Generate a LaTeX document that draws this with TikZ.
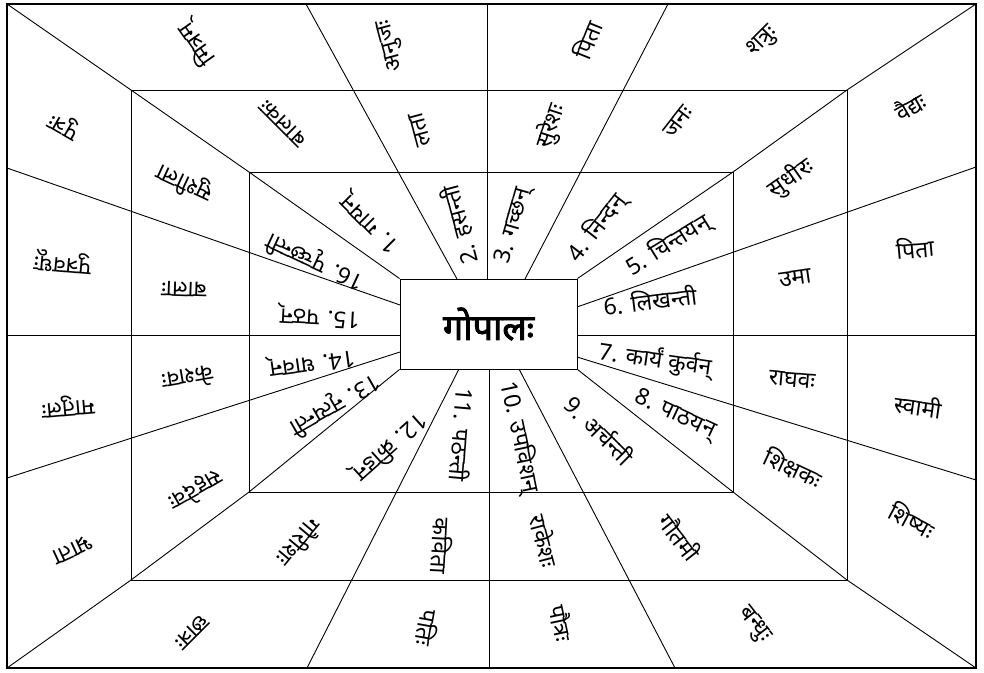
\documentclass[tikz,border=0pt]{standalone}
\usepackage{fontspec}
\newfontfamily\deva[Script=Devanagari]{Noto Sans}
\newfontfamily\devab[Script=Devanagari,FakeBold=2.5]{Noto Sans}
\begin{document}
\begin{tikzpicture}[x=1pt,y=-1pt,line width=0.9pt,
  lab/.style={font=\deva\fontsize{23}{26}\selectfont,inner sep=0pt},
  centrebox/.style={draw,minimum width=177pt,minimum height=90pt,inner sep=0pt,
    font=\devab\fontsize{36}{40}\selectfont}]
\useasboundingbox (0,0) rectangle (984,672);
\fill[white] (0,0) rectangle (984,672);
% frame points
\coordinate (O1) at (7,4);   \coordinate (O2) at (976,4);
\coordinate (O3) at (976,668); \coordinate (O4) at (7,668);
\coordinate (M1) at (131,90);  \coordinate (M2) at (847,90);
\coordinate (M3) at (847,580); \coordinate (M4) at (131,580);
\coordinate (I1) at (249,172); \coordinate (I2) at (733,172);
\coordinate (I3) at (733,492); \coordinate (I4) at (249,492);
\node[centrebox] (c) at (488.5,324) {गोपालः};
% rectangles
\draw[line width=1.4pt] (O1) rectangle (O3);
\draw (M1) rectangle (M3);
\draw (I1) rectangle (I3);
% diagonals
\draw (c.north west) -- (I1) -- (M1) -- (O1);
\draw (c.north east) -- (I2) -- (M2) -- (O2);
\draw (c.south east) -- (I3) -- (M3) -- (O3);
\draw (c.south west) -- (I4) -- (M4) -- (O4);
% spoke end points
\coordinate (a1) at (487,279); \coordinate (b1) at (487,4);
\coordinate (a2) at (489,369); \coordinate (b2) at (489,668);
\coordinate (a3) at (457,279); \coordinate (b3) at (306,4);
\coordinate (a4) at (525,279); \coordinate (b4) at (668,4);
\coordinate (a5) at (459,369); \coordinate (b5) at (307,668);
\coordinate (a6) at (519,369); \coordinate (b6) at (675,668);
\coordinate (a7) at (400,305); \coordinate (b7) at (7,168);
\coordinate (a8) at (400,352); \coordinate (b8) at (7,478);
\coordinate (a9) at (577,307); \coordinate (b9) at (976,167);
\coordinate (a10) at (577,357); \coordinate (b10) at (976,480);
\coordinate (a11) at (400,335); \coordinate (b11) at (7,335);
\coordinate (a12) at (577,335); \coordinate (b12) at (976,335);
\foreach \k in {1,...,12} {\draw (a\k) -- (b\k);}
% outer ring
\node[lab,rotate=125] (o1) at (197,44) {मित्रम्};
\node[lab,rotate=105] (o2) at (392,45) {अनुजः};
\node[lab,rotate=68] (o3) at (587,40) {पिता};
\node[lab,rotate=45] (o4) at (763,42) {शत्रुः};
\node[lab,rotate=30] (o5) at (910,106) {वैद्यः};
\node[lab,rotate=5] (o6) at (915,248) {पिता};
\node[lab,rotate=-8] (o7) at (918,406) {स्वामी};
\node[lab,rotate=-28] (o8) at (912,520) {शिष्यः};
\node[lab,rotate=-52] (o9) at (754,625) {बन्धुः};
\node[lab,rotate=-78] (o10) at (562,623) {पौत्रः};
\node[lab,rotate=-100] (o11) at (428,628) {पतिः};
\node[lab,rotate=-135] (o12) at (192,632) {छात्रः};
\node[lab,rotate=-155] (o13) at (73,550) {भ्राता};
\node[lab,rotate=-175] (o14) at (68,406) {मातुलः};
\node[lab,rotate=175] (o15) at (63,262) {पुत्रवधूः};
\node[lab,rotate=150] (o16) at (65,125) {पुत्रः};
% middle ring
\node[lab,rotate=135] (m1) at (283,123) {बालकः};
\node[lab,rotate=105] (m2) at (420,130) {लता};
\node[lab,rotate=72] (m3) at (551,126) {सुरेशः};
\node[lab,rotate=52] (m4) at (678,122) {जनः};
\node[lab,rotate=35] (m5) at (791,178) {सुधीरः};
\node[lab,rotate=8] (m6) at (795,278) {उमा};
\node[lab,rotate=-5] (m7) at (792,380) {राघवः};
\node[lab,rotate=-25] (m8) at (793,468) {शिक्षकः};
\node[lab,rotate=-52] (m9) at (680,537) {गौतमी};
\node[lab,rotate=-75] (m10) at (545,541) {राकेशः};
\node[lab,rotate=-93] (m11) at (442,546) {कविता};
\node[lab,rotate=-130] (m12) at (300,543) {गौरीशः};
\node[lab,rotate=-150] (m13) at (196,490) {सहदेवः};
\node[lab,rotate=-170] (m14) at (188,379) {केशवः};
\node[lab,rotate=178] (m15) at (184,289) {बालाः};
\node[lab,rotate=155] (m16) at (185,183) {सुशीला};
% inner ring
\node[lab,rotate=135] (i1) at (371,223) {1. गायन्};
\node[lab,rotate=105] (i2) at (460,225) {2. हसन्ती};
\node[lab,rotate=74] (i3) at (514,226) {3. गच्छन्};
\node[lab,rotate=52] (i4) at (597,228) {4. निन्दन्};
\node[lab,rotate=32] (i5) at (668,245) {5. चिन्तयन्};
\node[lab,rotate=7] (i6) at (650,300) {6. लिखन्ती};
\node[lab,rotate=-8] (i7) at (655,360) {7. कार्यं कुर्वन्};
\node[lab,rotate=-25] (i8) at (675,415) {8. पाठयन्};
\node[lab,rotate=-45] (i9) at (600,430) {9. अर्चन्ती};
\node[lab,rotate=-78] (i10) at (520,437) {10. उपविशन्};
\node[lab,rotate=-95] (i11) at (463,435) {11. पठन्ती};
\node[lab,rotate=-138] (i12) at (390,447) {12. क्रीडन्};
\node[lab,rotate=-150] (i13) at (335,405) {13. नृत्यन्ती};
\node[lab,rotate=-172] (i14) at (312,362) {14. धावन्};
\node[lab,rotate=177] (i15) at (320,316) {15. पठन्};
\node[lab,rotate=155] (i16) at (315,262) {16. पृच्छन्ती};
\end{tikzpicture}
\end{document}
